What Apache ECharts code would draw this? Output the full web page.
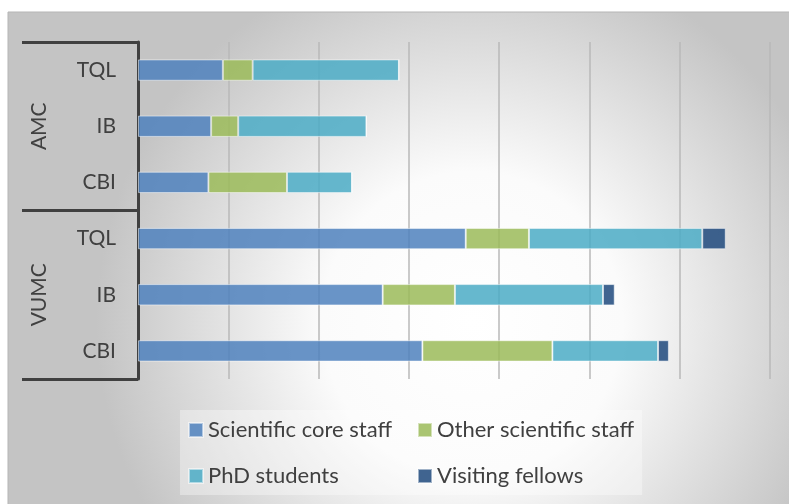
<!DOCTYPE html>
<html>
<head>
<meta charset="utf-8">
<script src="https://cdn.jsdelivr.net/npm/echarts@6/dist/echarts.min.js"></script>
<style>
  html, body { margin: 0; padding: 0; background: #fff; }
  #chart { width: 789px; height: 504px; }
</style>
</head>
<body>
<div id="chart"></div>
<script>
// rows top to bottom
const groups = ['AMC', 'VUMC']
const categories = ['TQL', 'IB', 'CBI', 'TQL', 'IB', 'CBI']
const coreStaff = [9.4, 8.1, 7.8, 36.3, 27.1, 31.5]
const otherStaff = [3.3, 3.0, 8.7, 7.0, 8.0, 14.4]
const phdStudents = [16.2, 14.2, 7.2, 19.2, 16.4, 11.7]
const visitingFellows = [0, 0, 0, 2.6, 1.3, 1.2]
const seriesNames = ['Scientific core staff', 'Other scientific staff', 'PhD students', 'Visiting fellows']

const font = 'Lato'
const textColor = '#404040'
const colors = ['#4f81bd', '#9bbb59', '#4bacc6', '#1f497d']

const chart = echarts.init(document.getElementById('chart'))

function barSeries(name, data, color) {
  return {
    name: name,
    type: 'bar',
    stack: 'total',
    data: data,
    barCategoryGap: '62%',
    itemStyle: {
      color: color,
      opacity: 0.85,
      borderColor: 'rgba(255,255,255,0.6)',
      borderWidth: 1
    }
  }
}

chart.setOption({
  animation: false,
  graphic: [{
    type: 'rect',
    z: -10,
    silent: true,
    shape: { x: 8, y: 12, width: 800, height: 500 },
    style: {
      fill: new echarts.graphic.RadialGradient(0.58, 0.62, 0.75, [
        { offset: 0, color: '#ffffff' },
        { offset: 0.4, color: '#fbfbfb' },
        { offset: 1, color: '#c4c4c4' }
      ]),
      stroke: '#b5b5b5',
      lineWidth: 1
    }
  }],
  color: colors,
  legend: {
    left: 180,
    top: 410,
    width: 480,
    itemGap: 24,
    itemWidth: 14,
    itemHeight: 14,
    icon: 'rect',
    padding: [9, 8, 8, 8],
    backgroundColor: 'rgba(255,255,255,0.35)',
    textStyle: {
      fontFamily: font,
      fontSize: 22,
      color: textColor,
      width: 185,
      lineHeight: 22
    },
    data: seriesNames
  },
  grid: { left: 138, right: 19, top: 42, bottom: 125 },
  xAxis: {
    type: 'value',
    min: 0,
    max: 70,
    interval: 10,
    axisLabel: { show: false },
    axisLine: { show: false },
    axisTick: { show: false },
    splitLine: { lineStyle: { color: '#b8b8b8', width: 1.5 } }
  },
  yAxis: [{
    type: 'category',
    inverse: true,
    data: categories,
    axisLine: { lineStyle: { color: textColor, width: 3 } },
    axisTick: { show: false },
    axisLabel: { fontFamily: font, fontSize: 21, color: textColor, margin: 22 }
  }, {
    type: 'category',
    inverse: true,
    position: 'left',
    data: groups,
    axisLine: { show: false },
    axisTick: { show: true, length: 116, lineStyle: { color: textColor, width: 3 } },
    axisLabel: { fontFamily: font, fontSize: 21, color: textColor, rotate: 90, margin: 88 }
  }],
  series: [
    barSeries(seriesNames[0], coreStaff, colors[0]),
    barSeries(seriesNames[1], otherStaff, colors[1]),
    barSeries(seriesNames[2], phdStudents, colors[2]),
    barSeries(seriesNames[3], visitingFellows, colors[3])
  ]
})
</script>
</body>
</html>
